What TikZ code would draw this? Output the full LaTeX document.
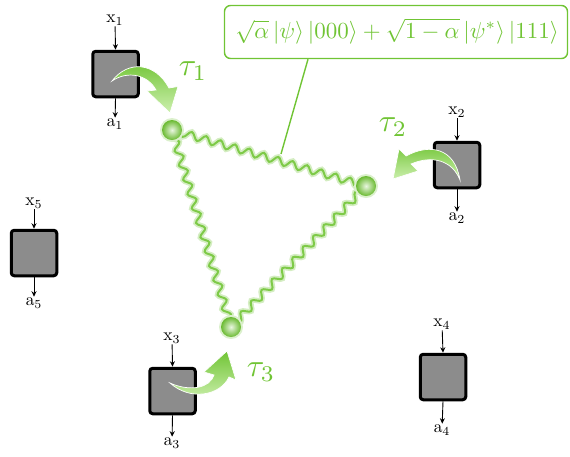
\documentclass[tikz,border=0pt]{standalone}
\usepackage{graphicx}
\usepackage{amsmath}
\usetikzlibrary{decorations.pathmorphing,shadings,arrows.meta}
\definecolor{qgreen}{RGB}{112,196,52}
\definecolor{qlight}{RGB}{205,240,175}
\newcommand{\lblx}[1]{\scalebox{1.75}{$#1$}}
\begin{document}
\begin{tikzpicture}[x=1pt,y=-1pt,
  party/.style={draw=black,line width=3pt,rounded corners=3pt,fill=black!45,minimum size=45.5pt,inner sep=0pt},
  lbl/.style={inner sep=1pt},
  io/.style={-{Stealth[length=5.5pt,width=5pt]},line width=0.9pt},
  ball/.style={circle,inner sep=0pt,minimum size=20pt,draw=none,shading=radial,inner color=white!85!qgreen,outer color=qgreen!95!black},
  glowline/.style={draw=qgreen!30,line width=5.5pt,line cap=round,decorate,decoration={snake,amplitude=3.6pt,segment length=15pt}},
  wave/.style={draw=qgreen!90!white,line width=2pt,decorate,decoration={snake,amplitude=3.6pt,segment length=15pt}},
  tau/.style={text=qgreen},
  fat/.style={draw=white,line width=0.7pt,left color=qgreen,right color=qlight,shading angle=0},
]
\useasboundingbox (0,0) rectangle (570,456);

% parties
\node[party] (p1) at (115.5,74) {};
\node[party] (p2) at (457,165) {};
\node[party] (p3) at (172.5,391) {};
\node[party] (p4) at (443,377) {};
\node[party] (p5) at (34,253) {};

\node[lbl] (x1) at (115,20) {\lblx{\mathrm{x}_1}};
\node[lbl] (x2) at (457,112) {\lblx{\mathrm{x}_2}};
\node[lbl] (x3) at (172,338) {\lblx{\mathrm{x}_3}};
\node[lbl] (x4) at (442,324) {\lblx{\mathrm{x}_4}};
\node[lbl] (x5) at (34,203) {\lblx{\mathrm{x}_5}};
\node[lbl] (a1) at (115,124) {\lblx{\mathrm{a}_1}};
\node[lbl] (a2) at (457,218) {\lblx{\mathrm{a}_2}};
\node[lbl] (a3) at (172,443) {\lblx{\mathrm{a}_3}};
\node[lbl] (a4) at (442,430) {\lblx{\mathrm{a}_4}};
\node[lbl] (a5) at (34,303) {\lblx{\mathrm{a}_5}};

\foreach \i in {1,...,5}{
  \draw[io] (x\i) -- (p\i.north);
  \draw[io] (p\i.south) -- (a\i);
}

% entangled state
\coordinate (b1) at (172,130);
\coordinate (b2) at (366,186);
\coordinate (b3) at (231,327);
\draw[glowline] (b1) -- (b2);
\draw[glowline] (b2) -- (b3);
\draw[glowline] (b3) -- (b1);
\draw[wave] (b1) -- (b2);
\draw[wave] (b2) -- (b3);
\draw[wave] (b3) -- (b1);
\foreach \b in {b1,b2,b3}{
  \fill[qgreen!25] (\b) circle (12pt);
  \node[ball] at (\b) {};
}

% callout
\node[draw=qgreen,line width=1.4pt,rounded corners=6pt,inner sep=0pt,
  minimum width=343pt,minimum height=53pt] (frame) at (396,32) {};
\node[text=qgreen,inner sep=0pt] (st) at (397,31)
  {\scalebox{2.3}{$\sqrt{\alpha}\,\lvert\psi\rangle\,\lvert000\rangle+\sqrt{1-\alpha}\,\lvert\psi^{*}\rangle\,\lvert111\rangle$}};
\coordinate (pt) at (281,154);
\draw[qgreen,line width=1.4pt] ([xshift=-88pt]frame.south) -- (pt);

% fat arrows
\shade[fat] (112,81) .. controls (128,60) and (155,62) .. (169,88) -- (178,86.5) -- (170,113) -- (147,91) -- (156,90) .. controls (148,75) and (128,70) .. (112,81) -- cycle;
\shade[fat] (460,180) .. controls (455,148) and (430,143) .. (406,156) -- (399,149) -- (393,179) -- (418,171) -- (411,164) .. controls (432,155) and (452,160) .. (460,180) -- cycle;
\shade[fat] (170,383) .. controls (190,401) and (220,396) .. (229,377) -- (236,380) -- (227,351) -- (204,372) -- (214,375) .. controls (210,388) and (190,392) .. (170,383) -- cycle;

\node[tau] (t1) at (193,71) {\scalebox{3.2}{$\tau_1$}};
\node[tau] (t2) at (393,127) {\scalebox{3.2}{$\tau_2$}};
\node[tau] (t3) at (261,372) {\scalebox{3.2}{$\tau_3$}};
\end{tikzpicture}
\end{document}
